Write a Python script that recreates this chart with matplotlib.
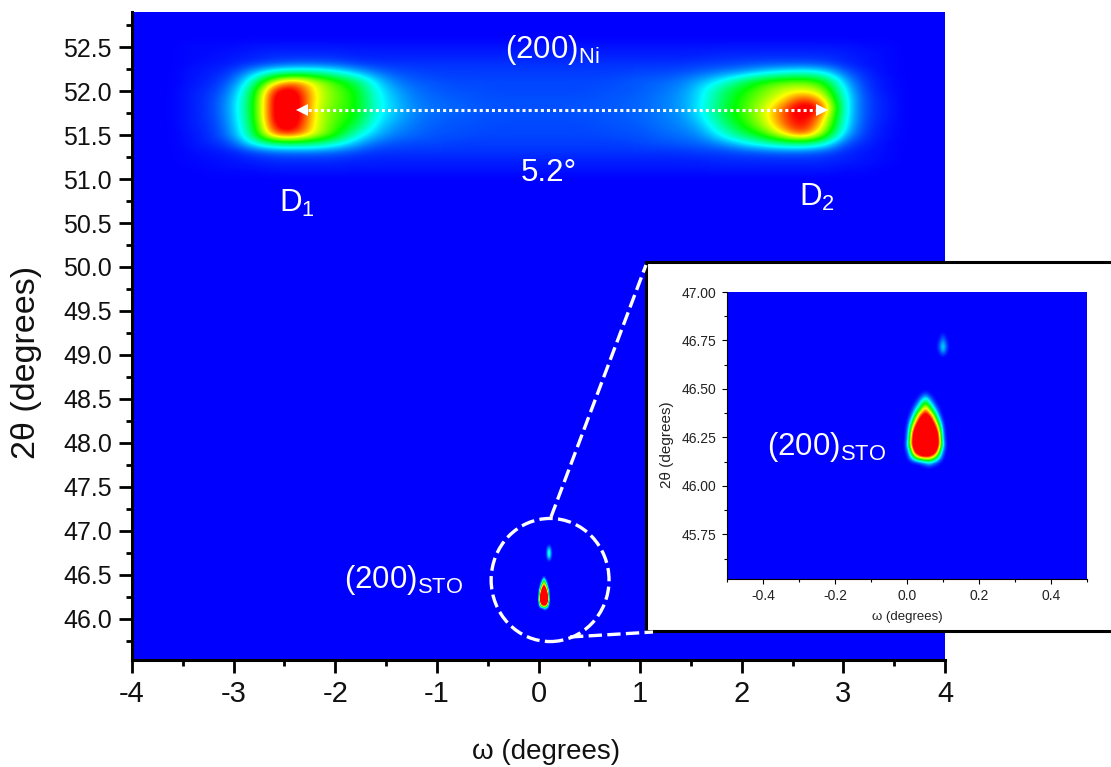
import numpy as np
import matplotlib
matplotlib.use("Agg")
import matplotlib.pyplot as plt
from matplotlib.colors import LinearSegmentedColormap
from matplotlib.lines import Line2D
from matplotlib.patches import Ellipse, Rectangle

W, H = 1111, 767

# (200)Ni map, intensity on a 0-100 colour scale
ni_omega = np.arange(-36, 37, 2) / 10
ni_two_theta = np.arange(510, 527) / 10
ni_intensity = [
    [0]*37,
    [0,0,1,1,1,2,2,2,2,2,2,2,2,2,2,2,2,2,2,2,2,2,2,2,2,2,2,2,2,2,2,2,2,1,1,0,0],
    [0,1,1,2,3,4,4,4,4,3,3,3,3,3,3,3,3,3,3,3,3,3,3,3,3,3,3,4,4,4,4,4,4,3,2,1,0],
    [0,1,2,3,6,9,10,10,9,7,5,5,5,5,5,5,5,5,5,5,5,5,5,5,5,5,6,6,7,8,9,9,7,4,2,1,0],
    [0,2,4,8,26,38,40,38,30,18,10,8,7,7,6,6,6,6,6,6,6,6,6,7,8,9,10,14,22,30,36,38,30,8,4,1,0],
    [0,2,5,14,40,92,96,72,54,30,18,12,10,8,8,7,7,7,7,7,7,7,8,8,10,11,14,26,40,52,74,96,62,18,5,2,0],
    [0,3,5,16,42,104,108,72,56,44,22,15,11,9,8,8,7,7,7,7,7,8,8,9,11,13,18,34,50,64,88,104,76,24,6,2,0],
    [0,3,6,17,46,108,112,74,58,50,26,18,12,10,9,8,8,8,8,8,8,8,9,10,12,14,22,40,54,68,92,106,84,26,7,3,0],
    [0,3,6,18,46,108,112,72,58,52,28,19,13,11,10,9,8,8,8,8,8,9,9,10,12,15,24,42,55,68,90,110,98,26,7,3,0],
    [0,3,6,17,46,108,112,75,60,52,28,18,12,10,9,8,8,8,8,8,8,8,9,10,12,15,23,40,53,64,76,98,80,27,7,3,0],
    [0,3,5,14,42,102,106,74,60,50,26,16,11,9,8,8,7,7,7,7,7,8,8,9,11,14,22,38,50,60,70,74,66,24,6,2,0],
    [0,2,4,10,32,72,90,70,56,42,22,12,9,8,7,7,7,7,7,7,7,7,8,9,10,12,18,26,40,52,58,60,52,18,5,2,0],
    [0,2,3,6,18,32,36,36,30,20,12,8,7,6,6,6,6,6,6,6,6,6,6,7,7,8,10,13,16,22,27,30,26,10,4,1,0],
    [0,1,2,3,5,7,9,9,8,6,5,5,5,5,5,5,5,5,5,5,5,5,5,5,5,5,6,6,7,8,8,8,7,4,2,1,0],
    [0,1,1,2,3,4,4,4,4,3,3,3,3,3,3,3,3,3,3,3,3,3,3,3,3,3,3,4,4,4,4,4,4,3,2,1,0],
    [0,1,1,1,2,2,2,2,2,2,2,2,2,2,2,2,2,2,2,2,2,2,2,2,2,2,2,2,2,2,2,2,2,2,1,1,0],
    [0]*37,
]

# main (200)STO peak
sto_omega = np.arange(-1, 12) / 100
sto_two_theta = np.arange(4609, 4652, 3) / 100
sto_intensity = [
    [0,0,0,0,0,0,0,0,0,0,0,0,0],
    [0,0,0,0,2,8,15,25,15,8,2,0,0],
    [0,3,25,60,90,105,110,105,90,60,25,3,0],
    [0,10,50,110,125,130,130,130,125,110,50,10,0],
    [0,20,85,120,135,140,140,140,135,120,85,20,0],
    [0,12,80,120,135,140,140,140,135,120,80,12,0],
    [0,10,70,115,135,140,140,140,135,115,70,10,0],
    [0,5,50,95,120,130,135,130,120,95,50,5,0],
    [0,2,25,70,100,120,125,120,100,70,25,2,0],
    [0,0,8,38,78,100,110,100,78,38,8,0,0],
    [0,0,2,14,40,68,88,68,40,14,2,0,0],
    [0,0,0,3,15,38,58,38,15,3,0,0,0],
    [0,0,0,0,3,12,24,12,3,0,0,0,0],
    [0,0,0,0,0,0,2,0,0,0,0,0,0],
    [0,0,0,0,0,0,0,0,0,0,0,0,0],
]

# small peak above it, as the inset shows it
small_omega = np.arange(8, 13) / 100
small_two_theta = np.arange(4666, 4681, 2) / 100
small_intensity = [
    [0,0,0,0,0],
    [0,2,10,2,0],
    [0,6,24,6,0],
    [0,8,28,8,0],
    [0,5,20,5,0],
    [0,2,12,2,0],
    [0,0,5,0,0],
    [0,0,0,0,0],
]

# same peak as the main panel shows it, wider and brighter
small_main_omega = np.arange(6, 14) / 100
small_main_two_theta = np.arange(4664, 4686, 3) / 100
small_main_intensity = [
    [0,0,0,0,0,0,0,0],
    [0,0,2,6,8,6,2,0],
    [0,1,7,18,24,18,7,1],
    [0,2,10,24,30,24,10,2],
    [0,2,10,24,30,24,10,2],
    [0,1,7,16,22,16,7,1],
    [0,0,2,6,8,6,2,0],
    [0,0,0,0,0,0,0,0],
]

misorientation_omega = [-2.33, 2.79]
misorientation_two_theta = [51.78, 51.78]

main_x_ticks = [-4, -3, -2, -1, 0, 1, 2, 3, 4]
main_y_ticks = np.arange(460, 526, 5) / 10
inset_x_ticks = [-0.4, -0.2, 0.0, 0.2, 0.4]
inset_y_ticks = [45.75, 46.00, 46.25, 46.50, 46.75, 47.00]

plt.rcParams["font.family"] = ["Liberation Sans", "DejaVu Sans"]
plt.rcParams["axes.unicode_minus"] = False
plt.rcParams["mathtext.fontset"] = "custom"
plt.rcParams["mathtext.rm"] = "Liberation Sans"

cmap = LinearSegmentedColormap.from_list(
    "map", ["#0000ff", "#00ffff", "#00ff00", "#ffff00", "#ff0000"], N=512)
cmap.set_over("#ff0000")
cmap.set_under((0, 0, 1, 0))


def px_axes(x0, y0, x1, y1, **kw):
    return fig.add_axes([x0 / W, 1 - y1 / H, (x1 - x0) / W, (y1 - y0) / H], **kw)


def px_text(x, y, s, size, color="white", **kw):
    fig.text(x / W, 1 - y / H, s, fontsize=size, color=color, va="baseline", **kw)


def px_line(xs, ys):
    fig.add_artist(Line2D([x / W for x in xs], [1 - y / H for y in ys], color="white",
                          lw=2.4, ls=(0, (4, 1.6)), zorder=1.5))


def draw_map(ax, omega, two_theta, values, vmin=0.0):
    dx = omega[1] - omega[0]
    dy = two_theta[1] - two_theta[0]
    ax.imshow(np.array(values, dtype=float), cmap=cmap, vmin=vmin, vmax=100, origin="lower",
              aspect="auto", interpolation="bicubic", interpolation_stage="data",
              extent=[omega[0] - dx / 2, omega[-1] + dx / 2,
                      two_theta[0] - dy / 2, two_theta[-1] + dy / 2])


fig = plt.figure(figsize=(W / 100, H / 100), dpi=100, facecolor="white")

# main panel
ax = px_axes(132, 12, 945, 660, facecolor="#0000ff")
draw_map(ax, ni_omega, ni_two_theta, ni_intensity)
draw_map(ax, sto_omega, sto_two_theta, sto_intensity, vmin=1)
draw_map(ax, small_main_omega, small_main_two_theta, small_main_intensity, vmin=1)
ax.set_xlim(-4, 4)
ax.set_ylim(45.53, 52.9)
ax.set_xticks(main_x_ticks)
ax.set_xticks(np.arange(-3.5, 4, 1), minor=True)
ax.set_yticks(main_y_ticks)
ax.set_yticks(np.arange(45.75, 52.8, 0.5), minor=True)
ax.set_xticklabels([str(t) for t in main_x_ticks], fontsize=21, color="#111111")
ax.set_yticklabels([f"{t:.1f}" for t in main_y_ticks], fontsize=18, color="#111111")
ax.tick_params(which="major", length=9.5, width=2.0, pad=5)
ax.tick_params(which="minor", length=4.5, width=2.0)
ax.spines[["top", "right"]].set_visible(False)
ax.spines[["left", "bottom"]].set_linewidth(2.2)

ax.plot(misorientation_omega, misorientation_two_theta, color="white", lw=2.2, ls=(0, (1, 1)))
ax.plot(misorientation_omega[0], misorientation_two_theta[0], "<", color="white", ms=9, mew=0)
ax.plot(misorientation_omega[1], misorientation_two_theta[1], ">", color="white", ms=9, mew=0)
ax.add_patch(Ellipse((0.114, 46.44), 1.16, 1.40, fill=False, ec="white", lw=2.4,
                     ls=(0, (4, 1.6))))

px_text(505, 58, r"(200)$_{\mathrm{Ni}}$", 22.5)
px_text(521, 181, "5.2°", 22.5)
px_text(279, 212, r"D$_{\mathrm{1}}$", 22.5)
px_text(799, 206, r"D$_{\mathrm{2}}$", 22.5)
px_text(344, 588, r"(200)$_{\mathrm{STO}}$", 22.5)
fig.text(546 / W, 1 - 752 / H, "ω (degrees)", fontsize=20, color="#111111",
         ha="center", va="center")
fig.text(27 / W, 1 - 362 / H, "2θ (degrees)", fontsize=24.5, color="#111111",
         ha="center", va="center", rotation=90)

# zoom lines and white inset box
px_line([551, 646], [517, 265])
px_line([570, 653], [637, 632])
fig.add_artist(Rectangle((646 / W, 1 - 631 / H), 470 / W, 369 / H, transform=fig.transFigure,
                         fc="white", ec="black", lw=2.2, zorder=1))

# inset panel
inset = px_axes(727, 292, 1087, 579, facecolor="#0000ff", zorder=2)
draw_map(inset, sto_omega, sto_two_theta, sto_intensity, vmin=1)
draw_map(inset, small_omega, small_two_theta, small_intensity, vmin=1)
inset.set_xlim(-0.5, 0.5)
inset.set_ylim(45.52, 47.0)
inset.set_xticks(inset_x_ticks)
inset.set_xticks(np.arange(-0.5, 0.6, 0.2), minor=True)
inset.set_yticks(inset_y_ticks)
inset.set_yticks(np.arange(45.625, 47, 0.25), minor=True)
inset.set_xticklabels([f"{t:.1f}" for t in inset_x_ticks], fontsize=10, color="#222222")
inset.set_yticklabels([f"{t:.2f}" for t in inset_y_ticks], fontsize=10, color="#222222")
inset.tick_params(which="major", length=3.5, width=0.8, pad=4)
inset.tick_params(which="minor", length=2, width=0.8)
for side in inset.spines.values():
    side.set_linewidth(0.8)
inset.spines[["top", "right"]].set_visible(False)

px_text(767, 455, r"(200)$_{\mathrm{STO}}$", 22.5, zorder=4)
fig.text(907 / W, 1 - 617 / H, "ω (degrees)", fontsize=9.5, color="#222222",
         ha="center", va="center", zorder=4)
fig.text(667 / W, 1 - 445 / H, "2θ (degrees)", fontsize=11, color="#222222",
         ha="center", va="center", rotation=90, zorder=4)

fig.savefig("out.png", dpi=100)
